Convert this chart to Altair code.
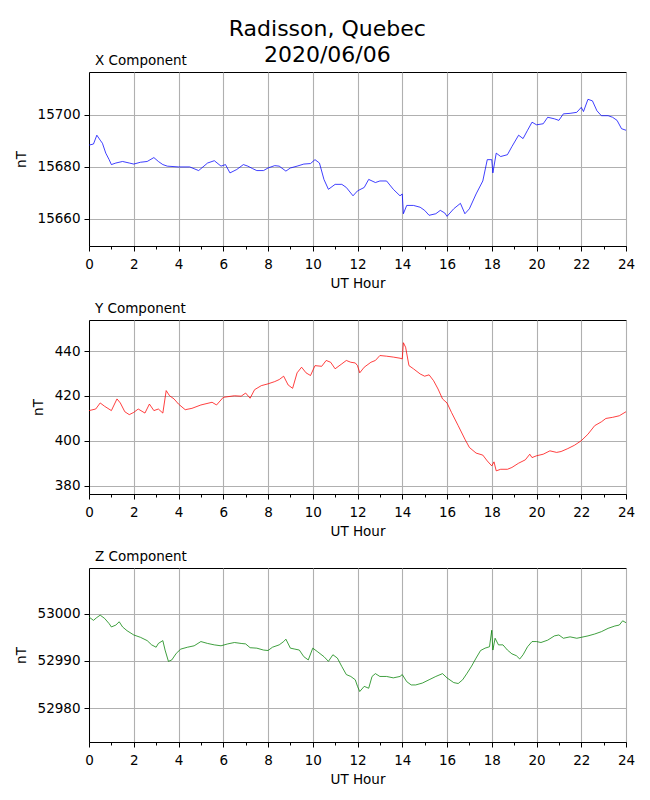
import altair as alt
import pandas as pd

FONT = "DejaVu Sans"

x_hours = [0, 0.2, 0.35, 0.5, 0.6, 0.75, 0.9, 1.0, 1.2, 1.5, 1.8, 2.0, 2.3, 2.6, 2.9, 3.1, 3.3, 3.5, 4.0, 4.5,
           4.9, 5.3, 5.6, 5.9, 6.1, 6.3, 6.6, 6.9, 7.1, 7.3, 7.5, 7.8, 8.0, 8.3, 8.5, 8.8, 9.0, 9.3, 9.6, 9.9,
           10.1, 10.3, 10.5, 10.7, 11.0, 11.3, 11.5, 11.8, 12.0, 12.3, 12.5, 12.8, 13.0, 13.3, 13.6, 13.9, 14.0,
           14.05, 14.2, 14.5, 14.8, 15.0, 15.2, 15.5, 15.7, 15.9, 16.0, 16.3, 16.6, 16.8, 17.0, 17.3, 17.6, 17.8,
           18.0, 18.05, 18.2, 18.4, 18.7, 18.9, 19.2, 19.4, 19.6, 19.8, 20.0, 20.3, 20.5, 20.8, 21.0, 21.2, 21.5,
           21.8, 22.0, 22.1, 22.3, 22.5, 22.7, 22.9, 23.2, 23.4, 23.6, 23.8, 24.0]
x_values = [15688.4, 15688.8, 15692.2, 15690.3, 15689.1, 15685.3, 15682.8, 15680.9, 15681.5, 15682.1, 15681.5,
            15681.1, 15681.8, 15682.1, 15683.6, 15682.1, 15680.9, 15680.3, 15680.0, 15680.0, 15678.6, 15681.5,
            15682.4, 15680.3, 15680.9, 15677.7, 15679.0, 15680.9, 15680.3, 15679.4, 15678.6, 15678.6, 15679.6,
            15680.5, 15680.3, 15678.4, 15679.6, 15680.3, 15681.1, 15681.3, 15682.8, 15681.5, 15675.2, 15671.4,
            15673.3, 15673.3, 15672.1, 15668.9, 15670.8, 15672.1, 15675.2, 15674.0, 15674.6, 15674.6, 15671.4,
            15668.9, 15669.6, 15662.0, 15665.2, 15665.2, 15664.5, 15663.3, 15661.4, 15662.0, 15663.3, 15662.3,
            15661.0, 15663.9, 15666.0, 15662.0, 15663.9, 15669.6, 15674.6, 15682.8, 15682.8, 15677.7, 15685.3,
            15684.0, 15684.7, 15687.8, 15692.2, 15690.9, 15694.1, 15697.2, 15696.2, 15696.6, 15699.1, 15698.5,
            15697.9, 15700.4, 15700.6, 15701.0, 15702.9, 15701.3, 15706.0, 15705.4, 15701.6, 15699.7, 15699.7,
            15699.1, 15697.9, 15694.7, 15694.1]

y_hours = [0, 0.3, 0.5, 0.7, 1.0, 1.25, 1.4, 1.6, 1.8, 2.0, 2.2, 2.5, 2.7, 2.9, 3.1, 3.3, 3.45, 3.6, 3.8, 4.0,
           4.3, 4.6, 5.0, 5.5, 5.7, 6.0, 6.5, 6.8, 7.0, 7.2, 7.4, 7.7, 8.0, 8.3, 8.5, 8.7, 8.9, 9.1, 9.3, 9.5,
           9.7, 9.9, 10.1, 10.4, 10.6, 10.8, 11.0, 11.3, 11.5, 11.7, 11.9, 12.0, 12.1, 12.3, 12.6, 12.8, 13.0,
           13.3, 13.6, 13.9, 14.0, 14.05, 14.15, 14.3, 14.5, 14.8, 15.0, 15.2, 15.4, 15.6, 15.8, 16.0, 16.2,
           16.5, 16.8, 17.0, 17.3, 17.6, 17.8, 18.0, 18.1, 18.2, 18.4, 18.7, 18.9, 19.2, 19.5, 19.7, 19.8, 20.0,
           20.3, 20.6, 20.9, 21.1, 21.4, 21.7, 22.0, 22.3, 22.6, 22.9, 23.1, 23.4, 23.7, 24.0]
y_values = [413.5, 414.2, 416.9, 415.4, 413.5, 418.7, 416.9, 413.0, 411.7, 412.7, 414.2, 412.4, 416.4, 413.5,
            414.2, 412.4, 422.4, 420.1, 418.7, 416.4, 413.9, 414.5, 416.0, 417.2, 416.0, 419.4, 420.1, 419.9,
            421.3, 419.0, 422.8, 424.6, 425.4, 426.4, 427.3, 428.8, 424.9, 423.4, 430.3, 432.8, 430.3, 429.1,
            433.5, 433.2, 435.8, 435.0, 432.1, 434.3, 435.8, 435.0, 434.7, 433.5, 430.3, 432.8, 435.0, 435.8,
            438.0, 437.7, 437.3, 436.8, 436.5, 443.7, 441.7, 433.5, 432.1, 429.8, 428.8, 429.4, 426.8, 423.1,
            418.7, 416.9, 412.7, 406.8, 400.8, 397.1, 394.6, 393.7, 391.1, 388.9, 390.7, 386.7, 387.4, 387.4,
            388.2, 390.1, 391.6, 394.1, 392.6, 393.4, 394.1, 395.6, 394.9, 395.3, 396.6, 398.1, 400.1, 403.0,
            406.8, 408.5, 410.0, 410.5, 411.2, 413.0]

z_hours = [0, 0.2, 0.35, 0.5, 0.7, 0.9, 1.0, 1.2, 1.35, 1.5, 1.7, 2.0, 2.3, 2.6, 2.8, 3.0, 3.1, 3.3, 3.4, 3.55,
           3.7, 3.9, 4.1, 4.4, 4.7, 5.0, 5.3, 5.6, 5.9, 6.2, 6.5, 6.8, 7.0, 7.2, 7.5, 7.8, 8.0, 8.2, 8.5, 8.7,
           8.8, 9.0, 9.2, 9.4, 9.6, 9.8, 10.0, 10.2, 10.5, 10.7, 10.9, 11.1, 11.3, 11.5, 11.7, 11.9, 12.0, 12.1,
           12.3, 12.5, 12.65, 12.8, 13.0, 13.3, 13.6, 13.9, 14.0, 14.2, 14.4, 14.6, 14.9, 15.2, 15.5, 15.8, 16.0,
           16.3, 16.5, 16.7, 16.9, 17.1, 17.3, 17.5, 17.7, 17.9, 18.0, 18.05, 18.15, 18.3, 18.5, 18.7, 18.9,
           19.1, 19.25, 19.4, 19.6, 19.8, 20.0, 20.2, 20.5, 20.8, 21.0, 21.2, 21.5, 21.8, 22.0, 22.3, 22.6,
           22.9, 23.2, 23.5, 23.7, 23.85, 24.0]
z_values = [52999.3, 52998.6, 52999.2, 52999.7, 52999.0, 52997.9, 52997.2, 52997.6, 52998.3, 52997.2, 52996.4,
            52995.5, 52995.0, 52994.3, 52993.4, 52992.9, 52993.7, 52994.3, 52992.3, 52989.9, 52990.2, 52991.6,
            52992.5, 52992.9, 52993.2, 52994.1, 52993.7, 52993.4, 52993.2, 52993.6, 52993.9, 52993.7, 52993.6,
            52992.8, 52992.7, 52992.3, 52992.2, 52992.9, 52993.4, 52994.1, 52994.6, 52992.7, 52992.5, 52992.3,
            52990.9, 52990.2, 52992.7, 52992.0, 52990.9, 52989.9, 52991.3, 52990.6, 52988.8, 52987.1, 52986.7,
            52986.0, 52984.6, 52983.5, 52984.6, 52984.2, 52986.7, 52987.3, 52986.7, 52986.7, 52986.4, 52986.7,
            52987.1, 52985.6, 52984.9, 52984.9, 52985.3, 52986.0, 52986.7, 52987.3, 52986.4, 52985.4, 52985.2,
            52986.0, 52987.4, 52988.9, 52990.6, 52992.2, 52992.7, 52993.0, 52996.5, 52992.3, 52994.8, 52993.4,
            52993.4, 52992.3, 52991.5, 52991.1, 52990.4, 52991.3, 52993.0, 52994.1, 52994.1, 52993.9, 52994.4,
            52995.3, 52995.5, 52994.8, 52995.1, 52994.8, 52995.0, 52995.3, 52995.7, 52996.2, 52996.9, 52997.4,
            52997.6, 52998.5, 52998.1]

hour_ticks = list(range(0, 25))
x_yticks = [15660, 15680, 15700]
y_yticks = [380, 400, 420, 440]
z_yticks = [52980, 52990, 53000]
x_domain = [15649.6, 15716.5]
y_domain = [376.4, 453.8]
z_domain = [52972.8, 53009.7]


def panel(hours, values, color, title, yticks, ydomain):
    df = pd.DataFrame({"hour": hours, "value": values})
    return alt.Chart(df, title=alt.TitleParams(
        title, anchor="start", frame="group", dx=6, fontSize=13.5, fontWeight="normal", font=FONT,
        color="black", offset=5)).mark_line(
        color=color, strokeWidth=0.75, clip=True
    ).encode(
        x=alt.X("hour:Q", scale=alt.Scale(domain=[0, 24], nice=False, zero=False),
                axis=alt.Axis(values=hour_ticks, title="UT Hour", labelPadding=6, labelFlush=False,
                              labelExpr="datum.value % 2 === 0 ? datum.label : ''",
                              tickSize={"condition": {"test": "datum.value % 2 !== 0", "value": 3}, "value": 5},
                              gridOpacity={"condition": {"test": "datum.value % 2 !== 0", "value": 0}, "value": 1})),
        y=alt.Y("value:Q", scale=alt.Scale(domain=ydomain, nice=False, zero=False),
                axis=alt.Axis(values=yticks, title="nT", format="d", labelPadding=4, titlePadding=9)),
    ).properties(width=537, height=174)


p1 = panel(x_hours, x_values, "#0000ff", "X Component", x_yticks, x_domain)
p2 = panel(y_hours, y_values, "#ff0000", "Y Component", y_yticks, y_domain)
p3 = panel(z_hours, z_values, "#008000", "Z Component", z_yticks, z_domain)

chart = alt.vconcat(p1, p2, p3, spacing=74, bounds="flush").properties(
    title=alt.TitleParams(["Radisson, Quebec", "2020/06/06"], fontSize=22, fontWeight="normal",
                          font=FONT, color="black", lineHeight=26.5, anchor="middle", dx=3, offset=-14),
    padding={"left": 5, "top": 9, "right": 5, "bottom": 5},
).configure_view(
    stroke="black", strokeWidth=1
).configure_axis(
    labelFont=FONT, titleFont=FONT, labelFontSize=13.5, titleFontSize=13.5,
    titleFontWeight="normal", labelColor="black", titleColor="black",
    domainColor="black", tickColor="black", gridColor="#b0b0b0", gridWidth=1.1,
    tickWidth=1, domainWidth=1, titlePadding=6,
)

chart.save("out.html", embed_options={"renderer": "svg", "actions": False})
